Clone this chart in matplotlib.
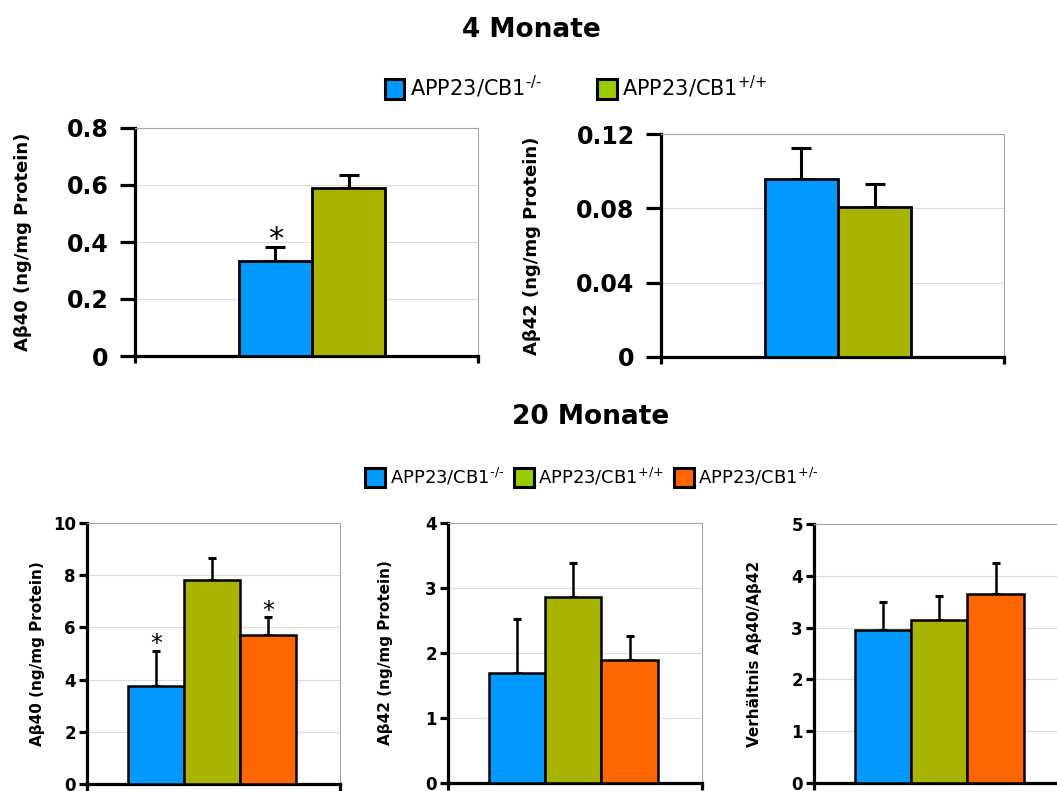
import matplotlib
matplotlib.use("Agg")
import matplotlib.pyplot as plt
from matplotlib.patches import Patch

plt.rcParams['font.family'] = ['DejaVu Sans']
plt.rcParams['mathtext.default'] = 'regular'

# ---------------- data ----------------
groups_4m = [r"APP23/CB1$^{\text{-/-}}$", r"APP23/CB1$^{\text{+/+}}$"]
groups_20m = [r"APP23/CB1$^{\text{-/-}}$", r"APP23/CB1$^{\text{+/+}}$", r"APP23/CB1$^{\text{+/-}}$"]

ab40_4m = [0.335, 0.590]
ab40_4m_err = [0.048, 0.045]
ab42_4m = [0.0960, 0.0805]
ab42_4m_err = [0.0165, 0.0125]

ab40_20m = [3.77, 7.82, 5.70]
ab40_20m_err = [1.32, 0.82, 0.68]
ab42_20m = [1.69, 2.86, 1.89]
ab42_20m_err = [0.83, 0.52, 0.37]
ratio_20m = [2.96, 3.15, 3.64]
ratio_20m_err = [0.54, 0.46, 0.61]

sig_ab40_4m = [True, False]
sig_ab40_20m = [True, False, True]

yt_ab40_4m = [0, 0.2, 0.4, 0.6, 0.8]
yl_ab40_4m = ["0", "0.2", "0.4", "0.6", "0.8"]
yt_ab42_4m = [0, 0.04, 0.08, 0.12]
yl_ab42_4m = ["0", "0.04", "0.08", "0.12"]
yt_ab40_20m = [0, 2, 4, 6, 8, 10]
yt_ab42_20m = [0, 1, 2, 3, 4]
yt_ratio_20m = [0, 1, 2, 3, 4, 5]

bar_colors = ["#0099FF", "#A8B400", "#FF6600"]
legend_colors = ["#0099FF", "#99CC00", "#FF6600"]

W, H = 1057, 791
fig = plt.figure(figsize=(W / 100, H / 100), dpi=100)


def px_axes(x0, x1, ytop, ybot):
    return fig.add_axes([x0 / W, 1 - ybot / H, (x1 - x0) / W, (ybot - ytop) / H])


def style_axes(ax, xlim, yticks, ylabels, top, big, ylabel, label_x):
    ax.set_xlim(*xlim)
    ax.set_ylim(0, top)
    for side in ("top", "right"):
        ax.spines[side].set_color("#a6a6a6")
        ax.spines[side].set_linewidth(0.8)
    for side in ("left", "bottom"):
        ax.spines[side].set_color("black")
        ax.spines[side].set_linewidth(2.3)
    ax.set_yticks(yticks)
    if big:
        ax.set_yticklabels(ylabels, fontsize=17, fontweight="bold")
        ax.tick_params(axis="y", length=11, width=2.3, direction="out", pad=8)
        ax.set_ylabel(ylabel, fontsize=13, fontweight="bold")
    else:
        ax.set_yticklabels(ylabels, fontsize=12, fontweight="bold")
        ax.tick_params(axis="y", length=6, width=2.3, direction="out", pad=2)
        ax.set_ylabel(ylabel, fontsize=11, fontweight="bold")
    ax.yaxis.set_label_coords(label_x, 0.5)
    ax.set_xticks(list(xlim))
    ax.set_xticklabels([])
    ax.tick_params(axis="x", length=5, width=2.3, direction="out")
    ax.yaxis.grid(True, color="#dcdcdc", linewidth=0.8)
    ax.set_axisbelow(True)


def draw_bars(ax, values, errs, lw, elw, cap, capthick):
    xs = list(range(len(values)))
    ax.bar(xs, values, width=1.0, color=bar_colors[:len(values)],
           edgecolor="black", linewidth=lw, zorder=3,
           yerr=[[0] * len(values), errs],
           error_kw=dict(ecolor="black", elinewidth=elw, capsize=cap,
                         capthick=capthick, zorder=2))
    return xs


def stars(ax, xs, values, errs, flags, size, off):
    for x, v, e, f in zip(xs, values, errs, flags):
        if f:
            ax.annotate("*", (x, v + e), xytext=(0, off), textcoords="offset points",
                        ha="center", va="center", fontsize=size, zorder=5)


# ---- 4 Monate ----
ax1 = px_axes(135, 478, 128, 356)
xs = draw_bars(ax1, ab40_4m, ab40_4m_err, 2.0, 2.2, 7.5, 2.2)
style_axes(ax1, (-1.92, 2.77), yt_ab40_4m, yl_ab40_4m, 0.8, True,
           "Aβ40 (ng/mg Protein)", -0.30)
stars(ax1, xs, ab40_4m, ab40_4m_err, sig_ab40_4m, 22, 5)

ax2 = px_axes(661, 1004, 134, 357)
xs = draw_bars(ax2, ab42_4m, ab42_4m_err, 2.0, 2.2, 7.5, 2.2)
style_axes(ax2, (-1.92, 2.77), yt_ab42_4m, yl_ab42_4m, 0.12, True,
           "Aβ42 (ng/mg Protein)", -0.35)

# ---- 20 Monate ----
ax3 = px_axes(87, 340, 523, 784)
xs = draw_bars(ax3, ab40_20m, ab40_20m_err, 1.8, 1.8, 3, 2.2)
style_axes(ax3, (-1.23, 3.29), yt_ab40_20m, [str(v) for v in yt_ab40_20m], 10, False,
           "Aβ40 (ng/mg Protein)", -0.166)
stars(ax3, xs, ab40_20m, ab40_20m_err, sig_ab40_20m, 17, 5)

ax4 = px_axes(448, 702, 523, 783)
draw_bars(ax4, ab42_20m, ab42_20m_err, 1.8, 1.8, 3, 2.2)
style_axes(ax4, (-1.23, 3.29), yt_ab42_20m, [str(v) for v in yt_ab42_20m], 4, False,
           "Aβ42 (ng/mg Protein)", -0.217)

ax5 = px_axes(814, 1068, 524, 783)
draw_bars(ax5, ratio_20m, ratio_20m_err, 1.8, 1.8, 3, 2.2)
style_axes(ax5, (-1.23, 3.29), yt_ratio_20m, [str(v) for v in yt_ratio_20m], 5, False,
           "Verhältnis Aβ40/Aβ42", -0.205)

# ---- titles ----
fig.text(531 / W, 1 - 37 / H, "4 Monate", ha="center", va="baseline",
         fontsize=19, fontweight="bold")
fig.text(591 / W, 1 - 424 / H, "20 Monate", ha="center", va="baseline",
         fontsize=19, fontweight="bold")

# ---- legends ----
h4 = [Patch(facecolor=legend_colors[i], edgecolor="black", linewidth=2.2)
      for i in range(len(groups_4m))]
fig.legend(h4, groups_4m, loc="center", bbox_to_anchor=(576 / W, 1 - 87 / H),
           ncol=2, frameon=False, fontsize=15, handlelength=0.95, handleheight=1.1,
           handletextpad=0.25, columnspacing=2.65, borderpad=0.1)

h20 = [Patch(facecolor=legend_colors[i], edgecolor="black", linewidth=2.2)
       for i in range(len(groups_20m))]
fig.legend(h20, groups_20m, loc="center", bbox_to_anchor=(592 / W, 1 - 477 / H),
           ncol=3, frameon=False, fontsize=13, handlelength=1.1, handleheight=1.25,
           handletextpad=0.25, columnspacing=0.55, borderpad=0.1)

fig.savefig("out.png", dpi=100)
